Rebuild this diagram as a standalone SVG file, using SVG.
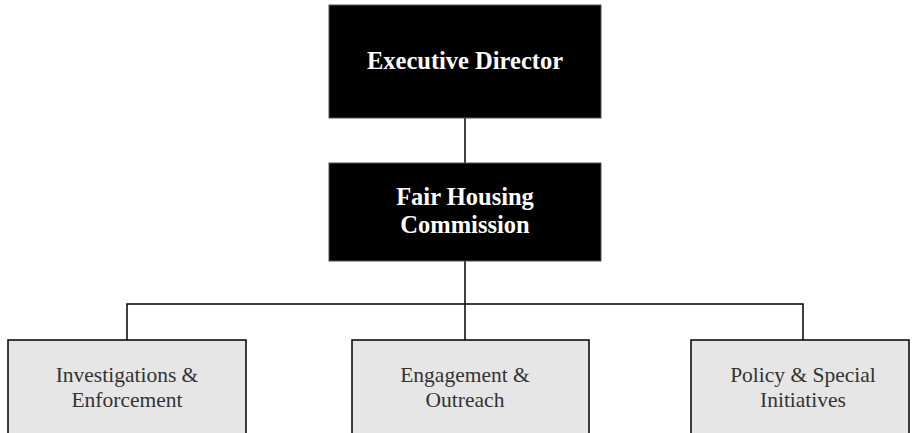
<svg xmlns="http://www.w3.org/2000/svg" width="916" height="433" viewBox="0 0 916 433">
<style>
.top{fill:#000;stroke:#555;stroke-width:1}
.sub{fill:#e6e6e6;stroke:#000;stroke-width:1.5}
.tt{font-family:"Liberation Serif","DejaVu Serif",serif;font-weight:bold;font-size:24.5px;fill:#fff;text-anchor:middle}
.st{font-family:"Liberation Serif","DejaVu Serif",serif;font-size:21.5px;fill:#333;text-anchor:middle}
.ln{fill:none;stroke:#000;stroke-width:1.5}
</style>
<rect width="916" height="433" fill="#fff"/>
<g id="connectors">
<path class="ln" d="M465 118V163"/>
<path class="ln" d="M465 261V340"/>
<path class="ln" d="M127 340V304H803V340"/>
</g>
<g id="executive-director">
<rect class="top" x="329" y="5" width="272" height="113"/>
<text class="tt" x="465" y="69">Executive Director</text>
</g>
<g id="fair-housing-commission">
<rect class="top" x="329" y="163" width="272" height="98"/>
<text class="tt" x="465" y="205">Fair Housing</text>
<text class="tt" x="465" y="233">Commission</text>
</g>
<g id="investigations">
<rect class="sub" x="8" y="340" width="238" height="100"/>
<text class="st" x="127" y="382">Investigations &amp;</text>
<text class="st" x="127" y="407">Enforcement</text>
</g>
<g id="engagement">
<rect class="sub" x="352" y="340" width="237" height="100"/>
<text class="st" x="465" y="382">Engagement &amp;</text>
<text class="st" x="465" y="407">Outreach</text>
</g>
<g id="policy">
<rect class="sub" x="691" y="340" width="218" height="100"/>
<text class="st" x="803" y="382">Policy &amp; Special</text>
<text class="st" x="803" y="407">Initiatives</text>
</g>
</svg>
